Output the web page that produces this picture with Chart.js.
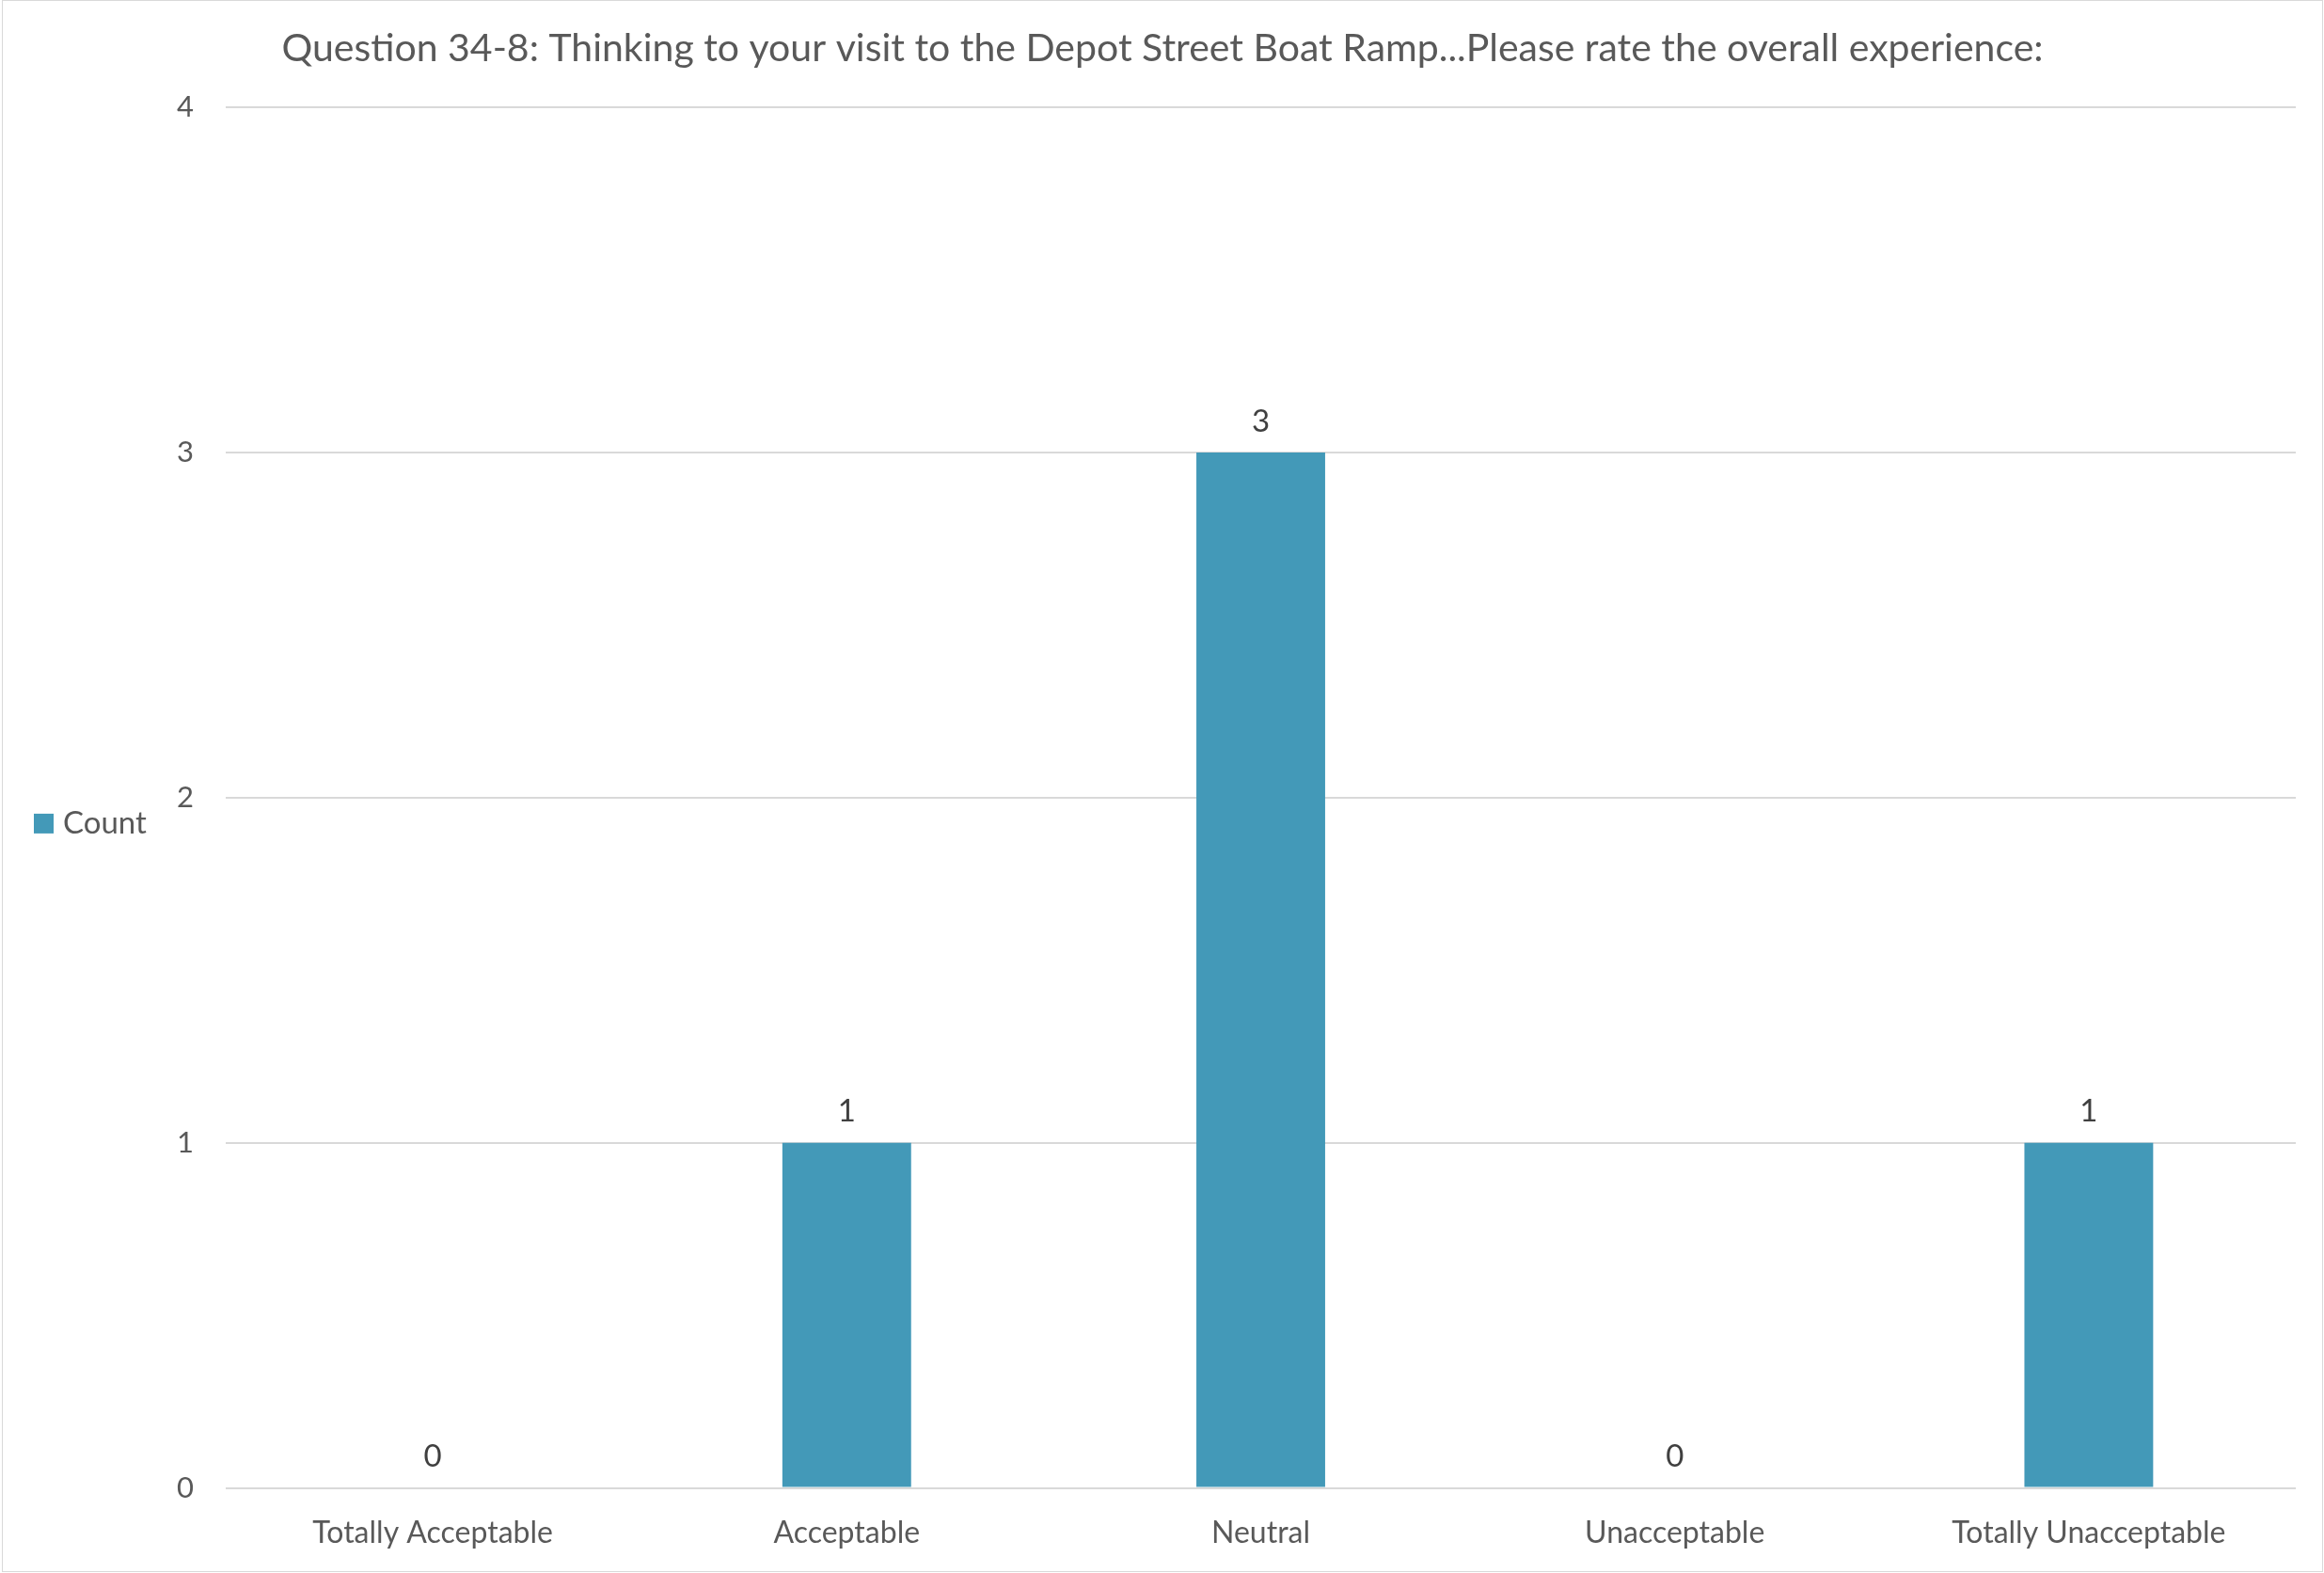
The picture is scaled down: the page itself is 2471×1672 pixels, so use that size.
<!DOCTYPE html>
<html>
<head>
<meta charset="utf-8">
<script src="https://cdn.jsdelivr.net/npm/chart.js@4"></script>
<style>
  html, body { margin: 0; padding: 0; background: #fff; }
  #wrap { position: absolute; left: 2px; top: 0; width: 2466px; height: 1669px; border: 1px solid #d9d9d9; }
  #myChart { display: block; }
</style>
</head>
<body>
<div id="wrap"><canvas id="myChart" width="2466" height="1669"></canvas></div>
<script>
const categories = ['Totally Acceptable', 'Acceptable', 'Neutral', 'Unacceptable', 'Totally Unacceptable'];
const counts = [0, 1, 3, 0, 1];
const yTicks = [0, 1, 2, 3, 4];
const seriesName = 'Count';

const FONT = 'Lato, "Open Sans", sans-serif';
const BAR_COLOR = '#4399b8';

// values above each bar, zeros included
const valueLabels = {
    id: 'valueLabels',
    afterDatasetsDraw(chart) {
        const ctx = chart.ctx;
        const meta = chart.getDatasetMeta(0);
        ctx.save();
        ctx.font = '33px ' + FONT;
        ctx.fillStyle = '#404040';
        ctx.textAlign = 'center';
        ctx.textBaseline = 'middle';
        meta.data.forEach((bar, i) => {
            ctx.fillText(String(counts[i]), bar.x, bar.y - 33);
        });
        ctx.restore();
    }
};

// excel-style legend sitting left of the axis
const sideLegend = {
    id: 'sideLegend',
    afterDraw(chart) {
        const ctx = chart.ctx;
        const area = chart.chartArea;
        const y = (area.top + area.bottom) / 2 + 27;
        ctx.save();
        ctx.fillStyle = BAR_COLOR;
        ctx.fillRect(33, y - 10, 21, 21);
        ctx.font = '33px ' + FONT;
        ctx.fillStyle = '#595959';
        ctx.textAlign = 'left';
        ctx.textBaseline = 'middle';
        ctx.fillText(seriesName, 64, y);
        ctx.restore();
    }
};

document.addEventListener('DOMContentLoaded', function() {
    const ctx = document.getElementById('myChart').getContext('2d');
    new Chart(ctx, {
        type: 'bar',
        data: {
            labels: categories,
            datasets: [{
                label: seriesName,
                data: counts,
                backgroundColor: BAR_COLOR,
                borderWidth: 0,
                categoryPercentage: 1,
                barPercentage: 0.311
            }]
        },
        options: {
            responsive: false,
            animation: false,
            layout: { padding: { left: 28, right: 28, top: 0, bottom: 0 } },
            plugins: {
                title: {
                    display: true,
                    text: 'Question 34-8: Thinking to your visit to the Depot Street Boat Ramp...Please rate the overall experience:',
                    color: '#595959',
                    font: { family: FONT, size: 41, weight: 'normal' },
                    padding: { top: 26, bottom: 38 }
                },
                legend: { display: false },
                tooltip: { enabled: false }
            },
            scales: {
                x: {
                    grid: { display: false },
                    border: { display: false },
                    ticks: {
                        color: '#595959',
                        font: { family: FONT, size: 32 },
                        padding: 21,
                        maxRotation: 0
                    }
                },
                y: {
                    min: 0,
                    max: 4,
                    afterBuildTicks: scale => { scale.ticks = yTicks.map(v => ({ value: v })); },
                    afterFit: scale => { scale.width = 209; },
                    grid: { color: '#d9d9d9', lineWidth: 2, drawTicks: false },
                    border: { display: false },
                    ticks: {
                        color: '#595959',
                        font: { family: FONT, size: 31 },
                        padding: 34
                    }
                }
            }
        },
        plugins: [valueLabels, sideLegend]
    });
});
</script>
</body>
</html>
